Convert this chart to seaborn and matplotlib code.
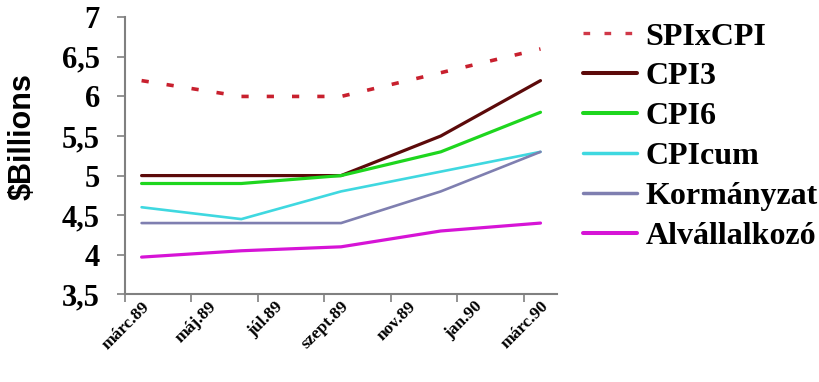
import matplotlib
matplotlib.use("Agg")
import matplotlib.pyplot as plt
import seaborn as sns
import pandas as pd
from matplotlib.lines import Line2D
from matplotlib.ticker import FixedLocator

# Months counted from márc.89 (0) to márc.90 (12); data are quarterly
months = [0, 3, 6, 9, 12]
tick_months = [0, 2, 4, 6, 8, 10, 12]
tick_labels = ["márc.89", "máj.89", "júl.89", "szept.89", "nov.89", "jan.90", "márc.90"]

series_names = ["SPIxCPI", "CPI3", "CPI6", "CPIcum", "Kormányzat", "Alvállalkozó"]
spixcpi = [6.2, 6.0, 6.0, 6.3, 6.6]
cpi3 = [5.0, 5.0, 5.0, 5.5, 6.2]
cpi6 = [4.9, 4.9, 5.0, 5.3, 5.8]
cpicum = [4.6, 4.45, 4.8, 5.05, 5.3]
kormanyzat = [4.4, 4.4, 4.4, 4.8, 5.3]
alvallalkozo = [3.97, 4.05, 4.1, 4.3, 4.4]
series_values = [spixcpi, cpi3, cpi6, cpicum, kormanyzat, alvallalkozo]

colors = ["#c8202e", "#5c0a0a", "#1ed61e", "#3fd8e0", "#7f7fb0", "#d614d6"]
widths = [2.6, 2.3, 2.3, 1.9, 1.9, 2.3]

sns.set_theme(style="white")
plt.rcParams["font.family"] = ["Liberation Serif", "DejaVu Serif"]
plt.rcParams["text.color"] = "black"
plt.rcParams["xtick.color"] = "black"
plt.rcParams["ytick.color"] = "black"
plt.rcParams["axes.labelcolor"] = "black"

fig = plt.figure(figsize=(8.2, 3.82), dpi=100)
ax = fig.add_axes([0.1524, 0.2296, 0.527, 0.7251])

df = pd.DataFrame({
    "month": months * len(series_names),
    "value": [v for vals in series_values for v in vals],
    "series": [n for n in series_names for _ in months],
})

handles = []
for name, color, lw in zip(series_names, colors, widths):
    sub = df[df["series"] == name]
    sns.lineplot(data=sub, x="month", y="value", color=color, linewidth=lw,
                 ax=ax, legend=False)
    line = ax.lines[-1]
    if name == "SPIxCPI":
        line.set_dashes((2, 5))
        line.set_dash_capstyle("butt")
        h = Line2D([], [], color="#d03848", linewidth=2.4, dashes=(2, 4.3))
    else:
        h = Line2D([], [], color=color, linewidth=lw + 0.6)
    handles.append(h)

ax.set_xlim(-0.5, 12.5)
ax.set_ylim(3.5, 7.0)
ax.set_yticks([3.5, 4, 4.5, 5, 5.5, 6, 6.5, 7])
ax.set_yticklabels(["3,5", "4", "4,5", "5", "5,5", "6", "6,5", "7"],
                   fontsize=22, fontweight="bold")
ax.set_xticks(tick_months)
ax.set_xticklabels(tick_labels, rotation=45, ha="right", rotation_mode="anchor",
                   fontsize=12.5, fontweight="bold")
ax.xaxis.set_minor_locator(FixedLocator([m - 0.5 for m in tick_months]))
ax.tick_params(axis="x", which="major", length=0, pad=3)
ax.tick_params(axis="x", which="minor", length=6, width=1.2, color="#808080",
               bottom=True)
ax.tick_params(axis="y", length=6, width=1.2, color="#808080", left=True, pad=12)
ax.set_xlabel("")
ax.set_ylabel("$Billions", fontsize=22, fontweight="bold",
              family=["Liberation Sans", "DejaVu Sans"])
ax.yaxis.set_label_coords(-0.203, 0.568)

for side in ["top", "right"]:
    ax.spines[side].set_visible(False)
for side in ["left", "bottom"]:
    ax.spines[side].set_color("#808080")
    ax.spines[side].set_linewidth(1.5)

fig.legend(handles, series_names, loc="upper left",
           bbox_to_anchor=(0.711, 0.942), frameon=False,
           prop={"family": "Liberation Serif", "weight": "bold", "size": 23},
           handlelength=1.7, handletextpad=0.25, labelspacing=0.33,
           borderpad=0, borderaxespad=0)

fig.savefig("out.png", dpi=100)
